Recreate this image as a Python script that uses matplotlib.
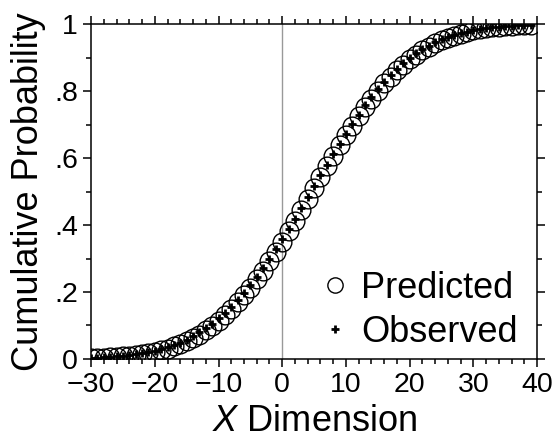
import numpy as np
import matplotlib
matplotlib.use("Agg")
import matplotlib.pyplot as plt
from matplotlib.ticker import MultipleLocator

plt.rcParams['font.family'] = ['Liberation Sans', 'DejaVu Sans']
plt.rcParams['mathtext.fontset'] = 'custom'
plt.rcParams['mathtext.it'] = 'Liberation Sans:italic'
plt.rcParams['mathtext.rm'] = 'Liberation Sans'

# x positions of the points (one per unit)
x_vals = list(range(-30, 40))

predicted = [
    0.002, 0.003, 0.004, 0.005, 0.006, 0.008, 0.009, 0.012, 0.014, 0.018,
    0.021, 0.026, 0.031, 0.038, 0.045, 0.053, 0.063, 0.073, 0.086, 0.099,
    0.114, 0.131, 0.149, 0.169, 0.190, 0.213, 0.238, 0.264, 0.292, 0.320,
    0.350, 0.381, 0.413, 0.445, 0.477, 0.510, 0.543, 0.575, 0.606, 0.638,
    0.668, 0.697, 0.725, 0.752, 0.777, 0.801, 0.823, 0.843, 0.862, 0.879,
    0.895, 0.909, 0.922, 0.933, 0.943, 0.952, 0.960, 0.966, 0.972, 0.977,
    0.981, 0.985, 0.987, 0.990, 0.992, 0.994, 0.995, 0.996, 0.997, 0.998,
]

observed = [
    0.003, 0.004, 0.005, 0.006, 0.008, 0.010, 0.012, 0.014, 0.017, 0.021,
    0.025, 0.030, 0.035, 0.042, 0.049, 0.058, 0.068, 0.079, 0.092, 0.105,
    0.121, 0.137, 0.156, 0.176, 0.197, 0.220, 0.245, 0.271, 0.298, 0.327,
    0.357, 0.388, 0.419, 0.451, 0.483, 0.516, 0.549, 0.580, 0.612, 0.643,
    0.673, 0.702, 0.730, 0.757, 0.782, 0.806, 0.828, 0.848, 0.867, 0.884,
    0.899, 0.913, 0.925, 0.936, 0.946, 0.955, 0.962, 0.968, 0.974, 0.978,
    0.982, 0.985, 0.988, 0.990, 0.992, 0.994, 0.995, 0.996, 0.997, 0.998,
]

y_ticks = [0, 0.2, 0.4, 0.6, 0.8, 1.0]
y_tick_labels = ['0', '.2', '.4', '.6', '.8', '1']
x_ticks = [-30, -20, -10, 0, 10, 20, 30, 40]
x_tick_labels = ['\u221230', '\u221220', '\u221210', '0', '10', '20', '30', '40']

fig = plt.figure(figsize=(5.52, 4.47), dpi=100)
ax = fig.add_axes([0.165, 0.197, 0.808, 0.749])

ax.axvline(0, color='#999999', lw=1.0, zorder=1)

ax.plot(x_vals, predicted, linestyle='none', marker='o', markersize=13.5,
        markerfacecolor='none', markeredgecolor='black', markeredgewidth=1.0,
        label='Predicted', zorder=3)
ax.plot(x_vals, observed, linestyle='none', marker='+', markersize=6,
        markeredgecolor='black', markeredgewidth=2.0,
        label='Observed', zorder=4)

ax.set_xlim(-30, 40)
ax.set_ylim(0, 1)
ax.set_xticks(x_ticks)
ax.set_xticklabels(x_tick_labels)
ax.set_yticks(y_ticks)
ax.set_yticklabels(y_tick_labels)
ax.xaxis.set_minor_locator(MultipleLocator(2))
ax.yaxis.set_minor_locator(MultipleLocator(0.1))

ax.tick_params(which='both', direction='out', top=True, right=True,
               labelsize=20.5, width=1.1, colors='black')
ax.tick_params(which='major', length=5.5, pad=4)
ax.tick_params(which='minor', length=3.5)
ax.tick_params(axis='x', labeltop=False)
ax.tick_params(axis='y', labelright=False)
for s in ax.spines.values():
    s.set_linewidth(1.1)

ax.set_xlabel(r'$\it{X}$ Dimension', fontsize=26, labelpad=4)
ax.set_ylabel('Cumulative Probability', fontsize=26, labelpad=6)

leg = ax.legend(loc='lower right', bbox_to_anchor=(0.996, -0.027), frameon=False,
                fontsize=26, handlelength=0.8, handletextpad=0.3,
                labelspacing=0.25, borderpad=0)
leg.legend_handles[0].set_markersize(11)

fig.savefig('out.png', dpi=100)
